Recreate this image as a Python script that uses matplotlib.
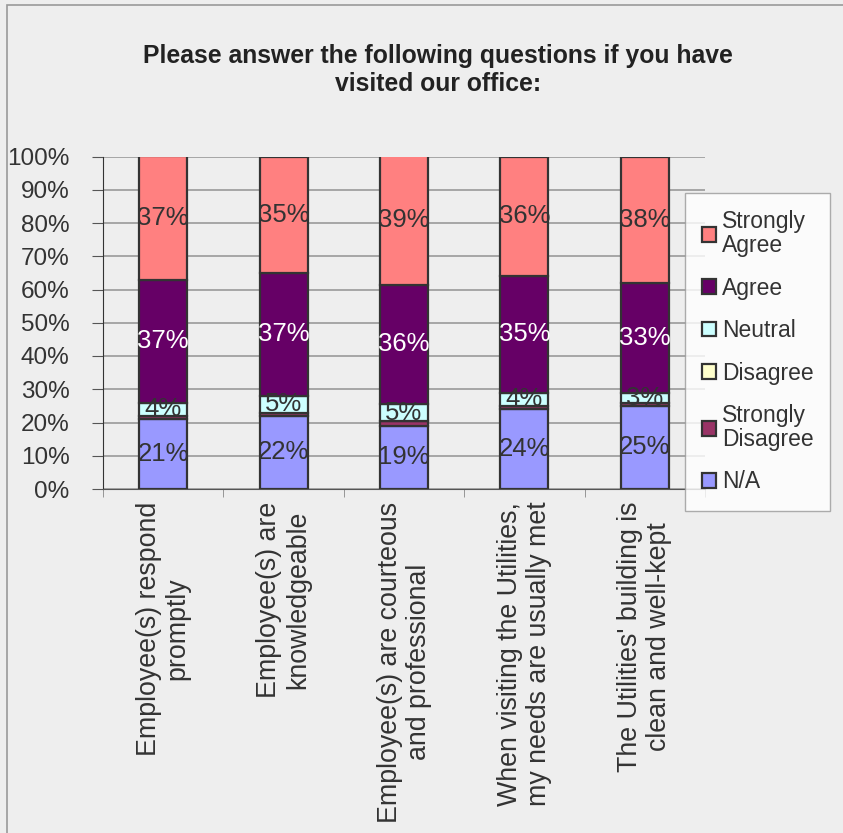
import numpy as np
import matplotlib.pyplot as plt
from matplotlib.patches import Patch, Rectangle

plt.rcParams['font.family'] = ['Liberation Sans', 'DejaVu Sans']

categories = ['Employee(s) respond\npromptly',
              'Employee(s) are\nknowledgeable',
              'Employee(s) are courteous\nand professional',
              'When visiting the Utilities,\nmy needs are usually met',
              "The Utilities' building is\nclean and well-kept"]
series_names = ['N/A', 'Strongly\nDisagree', 'Disagree', 'Neutral', 'Agree', 'Strongly\nAgree']
na = [21, 22, 19, 24, 25]
strongly_disagree = [1, 1, 1.5, 1, 1]
disagree = [0, 0, 0, 0, 0]
neutral = [4, 5, 5, 4, 3]
agree = [37, 37, 36, 35, 33]
strongly_agree = [37, 35, 39, 36, 38]
y_ticks = [0, 10, 20, 30, 40, 50, 60, 70, 80, 90, 100]

colors = ['#9999FF', '#993366', '#FFFFCC', '#CCFFFF', '#660066', '#FF8080']
text_colors = ['#333333', '#333333', '#333333', '#333333', 'white', '#333333']
edge = '#333333'

fig = plt.figure(figsize=(8.43, 8.33), dpi=100)
fig.patch.set_facecolor('#EEEEEE')
fig.patches.append(Rectangle((7 / 843, -0.01), 1.0, 1 - 5 / 833 + 0.01, transform=fig.transFigure,
                             fill=False, edgecolor='#999999', linewidth=1.2))

ax = fig.add_axes([103 / 843, 1 - 489 / 833, 602 / 843, 332.5 / 833])
ax.set_facecolor('#EEEEEE')

x = np.arange(len(categories))
data = [na, strongly_disagree, disagree, neutral, agree, strongly_agree]
bottom = np.zeros(len(categories))
for vals, col, tcol in zip(data, colors, text_colors):
    vals = np.array(vals, dtype=float)
    ax.bar(x, vals, width=0.4, bottom=bottom, color=col, edgecolor=edge, linewidth=1.6, zorder=3)
    for xi, b, v in zip(x, bottom, vals):
        if v >= 3:
            ax.text(xi, b + v / 2, '%d%%' % round(v), ha='center', va='center',
                    fontsize=18.5, color=tcol, zorder=4)
    bottom += vals

ax.set_xlim(-0.5, len(categories) - 0.5)
ax.set_ylim(0, 100)
ax.set_yticks(y_ticks)
ax.set_yticklabels(['%d%%' % t for t in y_ticks], fontsize=17.5, color='#333333')
ax.set_xticks(np.arange(len(categories) + 1) - 0.5, minor=True)
ax.set_xticks(x)
ax.set_xticklabels(categories, rotation=90, fontsize=19.3, color='#333333',
                   ha='center', va='top', multialignment='center', linespacing=1.15)
ax.tick_params(axis='x', which='major', length=0, pad=9)
ax.tick_params(axis='x', which='minor', length=6, color='#888888')
ax.tick_params(axis='y', length=8, color='#555555', pad=16)
ax.grid(axis='y', color='#999999', linewidth=1.2, zorder=0)
for s in ['top', 'right']:
    ax.spines[s].set_visible(False)
ax.spines['left'].set_color('#333333')
ax.spines['bottom'].set_color('#555555')

fig.text(438 / 843, 1 - 70 / 833,
         'Please answer the following questions if you have\nvisited our office:',
         ha='center', va='center', fontsize=17.8, fontweight='bold', color='#222222',
         linespacing=1.25)

handles = [Patch(facecolor=c, edgecolor=edge, linewidth=1.6) for c in colors]
leg = fig.legend(handles[::-1], series_names[::-1], loc='upper left',
                 bbox_to_anchor=(685 / 843, 1 - 193 / 833), fontsize=16.5,
                 frameon=True, fancybox=False, handlelength=0.6, handleheight=0.6,
                 handletextpad=0.25, labelspacing=0.85, borderpad=0.75,
                 borderaxespad=0)
leg.get_frame().set_facecolor('white')
leg.get_frame().set_edgecolor('#999999')
leg.get_frame().set_linewidth(1.0)
for t in leg.get_texts():
    t.set_color('#333333')
    t.set_linespacing(1.05)

plt.savefig('out.png', dpi=100, facecolor=fig.get_facecolor())
